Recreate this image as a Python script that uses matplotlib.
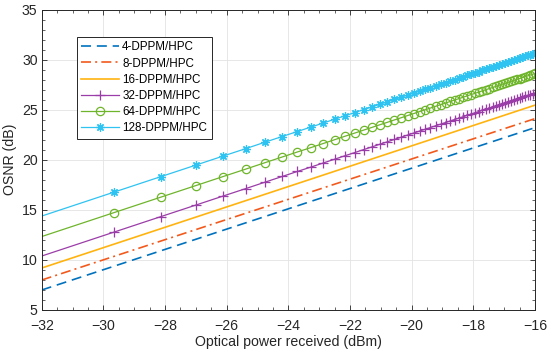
import matplotlib
matplotlib.use('Agg')
import matplotlib.pyplot as plt
from matplotlib.ticker import MultipleLocator

plt.rcParams['font.family'] = ['Liberation Sans', 'DejaVu Sans']

labels = ['4-DPPM/HPC', '8-DPPM/HPC', '16-DPPM/HPC', '32-DPPM/HPC', '64-DPPM/HPC', '128-DPPM/HPC']

# x range ends (dBm)
x_ends = [-32, -16]
# OSNR (dB) read at -32 and -16 dBm, for the unmarked curves
osnr_4 = [6.95, 23.2]
osnr_8 = [7.95, 24.1]
osnr_16 = [9.15, 25.45]

# marker positions (dBm); first value is the left edge, no marker
pr = [-32.00, -29.65, -28.13, -27.01, -26.12, -25.38, -24.75, -24.20, -23.71, -23.27, -22.87,
      -22.50, -22.17, -21.85, -21.56, -21.29, -21.03, -20.79, -20.56, -20.34, -20.13,
      -19.93, -19.74, -19.56, -19.39, -19.22, -19.06, -18.90, -18.75, -18.61, -18.47,
      -18.33, -18.20, -18.07, -17.95, -17.82, -17.71, -17.59, -17.48, -17.37, -17.27,
      -17.16, -17.06, -16.96, -16.86, -16.77, -16.68, -16.59, -16.50, -16.41, -16.33,
      -16.24, -16.16, -16.08, -16.00]

osnr_32 = [10.35, 12.75, 14.30, 15.44, 16.35, 17.10, 17.75, 18.31, 18.81, 19.25, 19.66,
           20.04, 20.38, 20.70, 21.00, 21.27, 21.54, 21.78, 22.02, 22.24, 22.46,
           22.66, 22.86, 23.04, 23.21, 23.39, 23.55, 23.71, 23.87, 24.01, 24.15,
           24.29, 24.43, 24.56, 24.68, 24.81, 24.93, 25.05, 25.16, 25.27, 25.37,
           25.49, 25.59, 25.69, 25.79, 25.88, 25.98, 26.07, 26.16, 26.25, 26.33,
           26.43, 26.51, 26.59, 26.67]
osnr_64 = [12.30, 14.70, 16.25, 17.39, 18.30, 19.05, 19.70, 20.26, 20.76, 21.20, 21.61,
           21.99, 22.33, 22.65, 22.95, 23.22, 23.49, 23.73, 23.97, 24.19, 24.41,
           24.61, 24.81, 24.99, 25.16, 25.34, 25.50, 25.66, 25.82, 25.96, 26.10,
           26.24, 26.38, 26.51, 26.63, 26.76, 26.88, 27.00, 27.11, 27.22, 27.32,
           27.44, 27.54, 27.64, 27.74, 27.83, 27.93, 28.02, 28.11, 28.20, 28.28,
           28.38, 28.46, 28.54, 28.62]
osnr_128 = [14.35, 16.75, 18.30, 19.44, 20.35, 21.10, 21.75, 22.31, 22.81, 23.25, 23.66,
            24.04, 24.38, 24.70, 25.00, 25.27, 25.54, 25.78, 26.02, 26.24, 26.46,
            26.66, 26.86, 27.04, 27.21, 27.39, 27.55, 27.71, 27.87, 28.01, 28.15,
            28.29, 28.43, 28.56, 28.68, 28.81, 28.93, 29.05, 29.16, 29.27, 29.37,
            29.49, 29.59, 29.69, 29.79, 29.88, 29.98, 30.07, 30.16, 30.25, 30.33,
            30.43, 30.51, 30.59, 30.67]

colors = ['#0072BD', '#F25A1D', '#FFB30F', '#9B3DA8', '#6FB52C', '#2FC3F2']

fig = plt.figure(figsize=(5.5, 3.54), dpi=100)
ax = fig.add_axes([0.0758, 0.1257, 0.8969, 0.8469])

ax.plot(x_ends, osnr_4, color=colors[0], ls=(0, (6, 3.5)), lw=1.2, label=labels[0])
ax.plot(x_ends, osnr_8, color=colors[1], ls=(0, (6, 2.5, 1.2, 2.5)), lw=1.2, label=labels[1])
ax.plot(x_ends, osnr_16, color=colors[2], ls='-', lw=1.2, label=labels[2])

marked = [(osnr_32, '+', 6.5, 'full'), (osnr_64, 'o', 6, 'none'), (osnr_128, (8, 2, 0), 6, 'full')]
for i, (ys, mk, ms, fill) in enumerate(marked):
    c = colors[3 + i]
    ax.plot(pr, ys, color=c, lw=0.9, marker=mk, ms=ms, markevery=list(range(1, len(pr))),
            markerfacecolor=(c if fill == 'full' else 'none'), markeredgecolor=c,
            markeredgewidth=0.9, label=labels[3 + i])

ax.set_xlim(-32, -16)
ax.set_ylim(5, 35)
ax.xaxis.set_major_locator(MultipleLocator(2))
ax.xaxis.set_minor_locator(MultipleLocator(0.5))
ax.yaxis.set_major_locator(MultipleLocator(5))
ax.yaxis.set_minor_locator(MultipleLocator(1))
ax.tick_params(which='both', direction='in', top=True, right=True, colors='#262626',
               labelsize=10.2, labelcolor='#262626')
ax.tick_params(which='major', length=3.5, width=0.6)
ax.tick_params(which='minor', length=2, width=0.5)
ax.tick_params(axis='x', which='major', pad=6.5)
ax.tick_params(axis='y', which='major', pad=3)
ax.grid(True, which='major', color='#e3e3e3', lw=0.6)
ax.set_axisbelow(True)
for s in ax.spines.values():
    s.set_color('#262626')
    s.set_linewidth(0.7)

ax.set_xlabel('Optical power received (dBm)', fontsize=10.2, color='#262626', labelpad=2)
ax.set_ylabel('OSNR (dB)', fontsize=10.2, color='#262626', labelpad=3)

leg = ax.legend(loc='upper left', bbox_to_anchor=(0.071, 0.91), fontsize=8.4,
                frameon=True, fancybox=False, edgecolor='#262626', framealpha=1,
                handlelength=3.25, handletextpad=0.25, labelspacing=0.36, borderpad=0.4,
                borderaxespad=0)
leg.get_frame().set_linewidth(0.7)

plt.savefig('out.png', dpi=100)
